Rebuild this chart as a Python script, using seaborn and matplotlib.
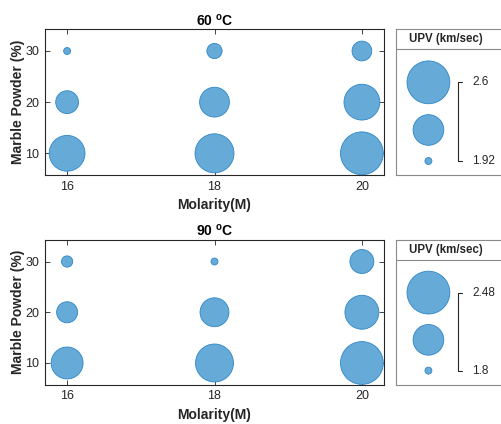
import numpy as np
import pandas as pd
import matplotlib
matplotlib.use("Agg")
import matplotlib.pyplot as plt
import seaborn as sns

# ---- data ----
molarity = [16, 18, 20]
marble = [10, 20, 30]
# rows: marble 10, 20, 30 ; cols: molarity 16, 18, 20
upv_60 = [[2.39, 2.48, 2.60],
          [2.10, 2.24, 2.39],
          [1.92, 1.99, 2.05]]
upv_90 = [[2.17, 2.33, 2.48],
          [1.95, 2.10, 2.22],
          [1.83, 1.80, 2.00]]
titles = [r"60 $^{\mathbf{o}}$C", r"90 $^{\mathbf{o}}$C"]
legend_labels = [["2.6", "1.92"], ["2.48", "1.8"]]

sns.set_theme(style="white")
plt.rcParams["font.family"] = ["Liberation Sans", "DejaVu Sans"]
plt.rcParams["mathtext.fontset"] = "custom"
plt.rcParams["mathtext.rm"] = "Liberation Sans"
plt.rcParams["mathtext.bf"] = "Liberation Sans:bold"

FACE = "#66AAD7"
EDGE = "#2F86C8"
DARK = "#262626"
SMIN, SMAX = 25, 950

fig = plt.figure(figsize=(5.01, 4.24), dpi=100)
W, H = 501, 424

def frac_rect(l, t, r, b):
    return [l / W, (H - b) / H, (r - l) / W, (b - t) / H]

panels = [(29.3, 175.0), (240.0, 384.5)]

for k, (upv, (top, bot)) in enumerate(zip([upv_60, upv_90], panels)):
    rows = []
    for i, mp in enumerate(marble):
        for j, m in enumerate(molarity):
            rows.append({"Molarity": m, "Marble": mp, "UPV": upv[i][j]})
    df = pd.DataFrame(rows)
    vmin, vmax = df["UPV"].min(), df["UPV"].max()

    ax = fig.add_axes(frac_rect(45, top, 384, bot))
    sns.scatterplot(data=df, x="Molarity", y="Marble", size="UPV",
                    sizes=(SMIN, SMAX), size_norm=(vmin, vmax),
                    color=FACE, edgecolor=EDGE, linewidth=0.6,
                    legend=False, ax=ax, clip_on=False, zorder=3)
    ax.set_xlim(15.7, 20.3)
    ax.set_ylim(5.76, 34.24)
    ax.set_xticks(molarity)
    ax.set_yticks(marble)
    ax.tick_params(direction="in", bottom=True, left=True, top=True,
                   right=True, length=3.5, width=0.6, colors=DARK,
                   labelsize=9, pad=4)
    for sp in ax.spines.values():
        sp.set_color(DARK)
        sp.set_linewidth(0.8)
    ax.set_xlabel("Molarity(M)", fontsize=10, fontweight="bold",
                  color=DARK, labelpad=4)
    ax.set_ylabel("Marble Powder (%)", fontsize=10, fontweight="bold",
                  color=DARK, labelpad=0)
    ax.set_title(titles[k], fontsize=10, fontweight="bold", color="black",
                 pad=3)

    # ---- bubble size legend ----
    lax = fig.add_axes(frac_rect(395.5, top, 506, bot))
    lax.set_xlim(0, 1)
    lax.set_ylim(0, 1)
    lax.set_xticks([])
    lax.set_yticks([])
    for sp in lax.spines.values():
        sp.set_color("#8a8a8a")
        sp.set_linewidth(0.8)
    lax.axhline(0.863, color="#8a8a8a", lw=0.8)
    lax.text(0.455, 0.932, "UPV (km/sec)", ha="center", va="center",
             fontsize=8.3, fontweight="bold", color=DARK)
    leg_vals = [vmax, (vmin + vmax) / 2, vmin]
    leg_y = [0.636, 0.309, 0.096]
    leg_s = [SMIN + (v - vmin) / (vmax - vmin) * (SMAX - SMIN) for v in leg_vals]
    lax.scatter([0.298] * 3, leg_y, s=leg_s, color=FACE, edgecolor=EDGE,
                linewidth=0.6, zorder=3)
    bx, tx = 0.567, 0.604
    lax.plot([tx, bx, bx, tx], [leg_y[0], leg_y[0], leg_y[2], leg_y[2]],
             color=DARK, lw=0.8)
    lax.text(0.695, leg_y[0], legend_labels[k][0], ha="left", va="center",
             fontsize=8.5, color=DARK)
    lax.text(0.695, leg_y[2], legend_labels[k][1], ha="left", va="center",
             fontsize=8.5, color=DARK)

fig.savefig("out.png", dpi=100)
